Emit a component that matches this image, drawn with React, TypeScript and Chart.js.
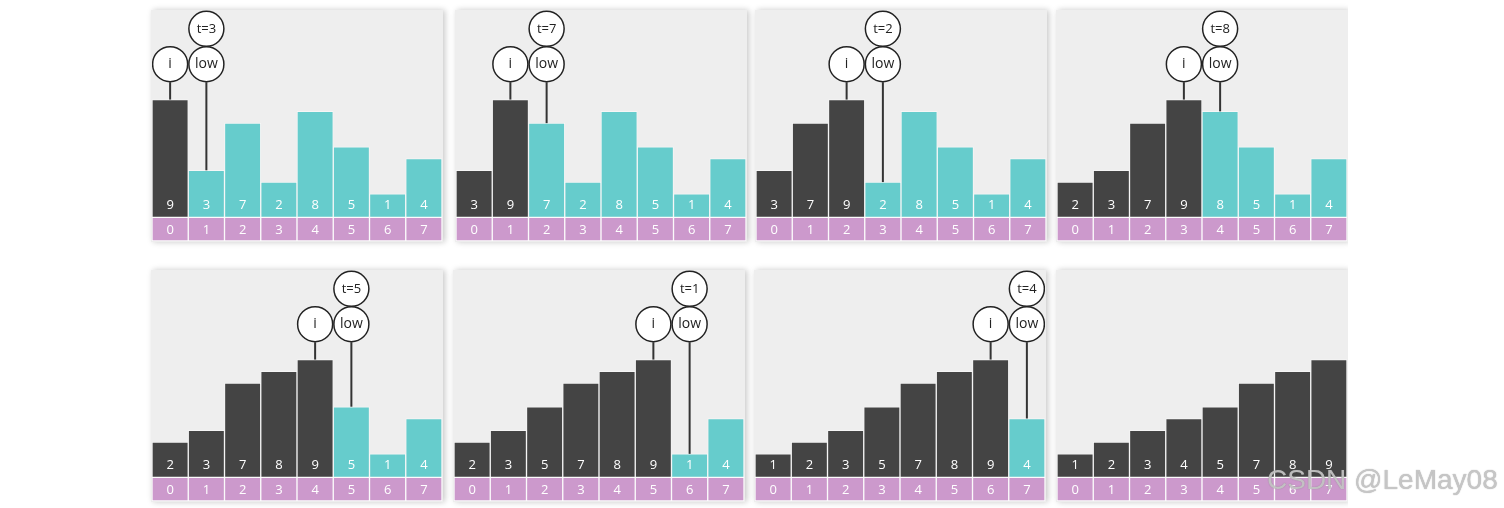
import React, { useEffect, useRef } from "react";
import { Chart, registerables } from "chart.js";

Chart.register(...registerables);

// ---- data ----
const INDEX_LABELS = ["0", "1", "2", "3", "4", "5", "6", "7"];
const STEP_1 = [9, 3, 7, 2, 8, 5, 1, 4];
const STEP_2 = [3, 9, 7, 2, 8, 5, 1, 4];
const STEP_3 = [3, 7, 9, 2, 8, 5, 1, 4];
const STEP_4 = [2, 3, 7, 9, 8, 5, 1, 4];
const STEP_5 = [2, 3, 7, 8, 9, 5, 1, 4];
const STEP_6 = [2, 3, 5, 7, 8, 9, 1, 4];
const STEP_7 = [1, 2, 3, 5, 7, 8, 9, 4];
const STEP_8 = [1, 2, 3, 4, 5, 7, 8, 9];
const STEPS = [STEP_1, STEP_2, STEP_3, STEP_4, STEP_5, STEP_6, STEP_7, STEP_8];
const I_POS: (number | null)[] = [0, 1, 2, 3, 4, 5, 6, null];
const LOW_POS: (number | null)[] = [1, 2, 3, 4, 5, 6, 7, null];
const T_VALUES: (number | null)[] = [3, 7, 2, 8, 5, 1, 4, null];
const SORTED_COUNT = [1, 2, 3, 4, 5, 6, 7, 8];

// ---- layout / style constants ----
const BAR_BASE = -1;
const INDEX_TOP = -1;
const INDEX_BOTTOM = -3;
const Y_MAX = 16.6;
const CIRCLE_LOW_Y = 12;
const CIRCLE_T_Y = 15;
const CIRCLE_R = 18;
const CHART_W = 290;
const CHART_H = 231;
const PANEL_LEFTS = [152, 456, 756, 1057, 152, 454, 755, 1057];
const PANEL_TOPS = [10, 10, 10, 10, 270, 270, 270, 270];
const DARK = "#444444";
const TEAL = "#66CCCC";
const PURPLE = "#CC99CC";
const BG = "#EEEEEE";
const FONT = "'Open Sans', 'Noto Sans', sans-serif";

function Panel({ idx }: { idx: number }) {
  const ref = useRef<HTMLCanvasElement | null>(null);
  useEffect(() => {
    const values = STEPS[idx];
    const iPos = I_POS[idx];
    const lowPos = LOW_POS[idx];
    const tVal = T_VALUES[idx];
    const sorted = SORTED_COUNT[idx];

    const overlay = {
      id: "overlay" + idx,
      afterDatasetsDraw(chart: any) {
        const { ctx } = chart;
        const x = chart.scales.x;
        const y = chart.scales.y;
        ctx.save();
        ctx.textAlign = "center";
        ctx.textBaseline = "middle";
        ctx.fillStyle = "#ffffff";
        ctx.font = `13px ${FONT}`;
        const basePx = y.getPixelForValue(BAR_BASE);
        const idxMid = (y.getPixelForValue(INDEX_TOP) + y.getPixelForValue(INDEX_BOTTOM)) / 2;
        values.forEach((v, k) => {
          const cx = x.getPixelForValue(k);
          ctx.fillText(String(v), cx, basePx - 12);
          ctx.fillText(INDEX_LABELS[k], cx, idxMid + 1);
        });

        const drawCircle = (cx: number, cy: number, label: string, size: number) => {
          ctx.beginPath();
          ctx.arc(cx, cy, CIRCLE_R - 0.5, 0, Math.PI * 2);
          ctx.fillStyle = "#ffffff";
          ctx.fill();
          ctx.lineWidth = 1.5;
          ctx.strokeStyle = "#222222";
          ctx.stroke();
          ctx.fillStyle = "#222222";
          ctx.font = `${size}px ${FONT}`;
          ctx.fillText(label, cx, cy);
        };
        const drawPointer = (pos: number, label: string) => {
          const cx = x.getPixelForValue(pos);
          const cy = y.getPixelForValue(CIRCLE_LOW_Y);
          const top = y.getPixelForValue(values[pos]);
          ctx.beginPath();
          ctx.moveTo(cx, cy + CIRCLE_R);
          ctx.lineTo(cx, top);
          ctx.lineWidth = 2;
          ctx.strokeStyle = "#333333";
          ctx.stroke();
          drawCircle(cx, cy, label, 14);
        };
        if (iPos !== null) drawPointer(iPos, "i");
        if (lowPos !== null) {
          drawPointer(lowPos, "low");
          if (tVal !== null) {
            drawCircle(x.getPixelForValue(lowPos), y.getPixelForValue(CIRCLE_T_Y), "t=" + tVal, 13);
          }
        }
        ctx.restore();
      },
    };

    const chart = new Chart(ref.current as HTMLCanvasElement, {
      type: "bar",
      data: {
        labels: INDEX_LABELS,
        datasets: [
          {
            data: INDEX_LABELS.map(() => [INDEX_BOTTOM, INDEX_TOP]) as any,
            backgroundColor: PURPLE,
            borderColor: "rgba(255,255,255,0.75)",
            borderWidth: 1,
            borderSkipped: false,
            grouped: false,
            barPercentage: 1,
            categoryPercentage: 1,
          },
          {
            data: values.map((v) => [BAR_BASE, v]) as any,
            backgroundColor: values.map((_, k) => (k < sorted ? DARK : TEAL)),
            borderColor: values.map((_, k) =>
              k < sorted ? "rgba(255,255,255,0.4)" : "rgba(255,255,255,0.45)"
            ),
            borderWidth: 1,
            borderSkipped: false,
            grouped: false,
            barPercentage: 1,
            categoryPercentage: 1,
          },
        ],
      },
      options: {
        animation: false,
        responsive: false,
        devicePixelRatio: 1,
        layout: { padding: 0 },
        plugins: { legend: { display: false }, tooltip: { enabled: false } },
        scales: {
          x: { display: false },
          y: { display: false, min: INDEX_BOTTOM, max: Y_MAX },
        },
      },
      plugins: [overlay],
    });
    return () => chart.destroy();
  }, [idx]);

  const left = PANEL_LEFTS[idx];
  const top = PANEL_TOPS[idx];
  return (
    <>
      <div
        style={{
          position: "absolute",
          left: left - 1,
          top: top,
          width: CHART_W + 2,
          height: CHART_H + 1,
          background: BG,
          boxShadow: "2px 0 6px rgba(0,0,0,0.22)",
        }}
      />
      <canvas
        ref={ref}
        width={CHART_W}
        height={CHART_H}
        style={{ position: "absolute", left, top, width: CHART_W, height: CHART_H }}
      />
    </>
  );
}

export default function App() {
  return (
    <div
      style={{
        position: "absolute",
        left: 0,
        top: 0,
        width: 1504,
        height: 508,
        background: "#ffffff",
        overflow: "hidden",
      }}
    >
      {STEPS.map((_, k) => (
        <Panel key={k} idx={k} />
      ))}
      <div
        style={{
          position: "absolute",
          left: 1348,
          top: 0,
          width: 156,
          height: 508,
          background: "#ffffff",
        }}
      />
      <div
        style={{
          position: "absolute",
          left: 1267,
          top: 462,
          fontFamily: "'Liberation Sans', Arial, sans-serif",
          fontSize: 28,
          lineHeight: "36px",
          color: "rgba(205,205,205,0.85)",
          textShadow: "0 0 1px rgba(110,110,110,0.7)",
          whiteSpace: "nowrap",
        }}
      >
        CSDN @LeMay08
      </div>
    </div>
  );
}
